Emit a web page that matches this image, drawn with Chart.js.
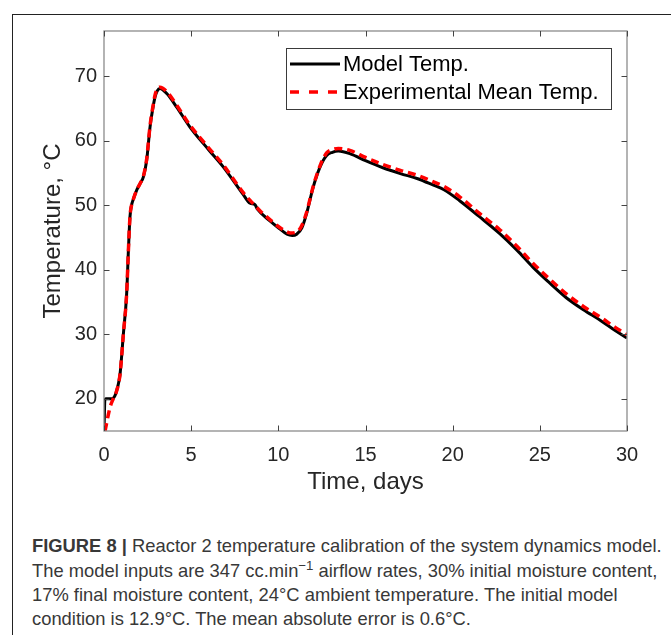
<!DOCTYPE html>
<html><head><meta charset="utf-8">
<script src="https://cdn.jsdelivr.net/npm/chart.js@4.4.1/dist/chart.umd.min.js"></script>
<style>
html,body{margin:0;padding:0;background:#fff;width:671px;height:635px;overflow:hidden;}
#frame{position:absolute;left:12px;top:14px;width:700px;height:700px;border-left:1.5px solid #222;border-top:1.5px solid #222;}
#wrap{position:absolute;left:0;top:0;width:671px;height:500px;}
.cap{position:absolute;left:32px;white-space:nowrap;font-family:"Liberation Sans",Arial,sans-serif;color:#383838;line-height:1;}
.cap sup{font-size:0.72em;vertical-align:0.5em;line-height:0;}
</style></head><body>
<div id="frame"></div>
<div id="wrap"><canvas id="c" width="671" height="500"></canvas></div>
<div class="cap" id="l1"><b>FIGURE 8 |</b> Reactor 2 temperature calibration of the system dynamics model.</div>
<div class="cap" id="l2">The model inputs are 347 cc.min<sup>−1</sup> airflow rates, 30% initial moisture content,</div>
<div class="cap" id="l3">17% final moisture content, 24°C ambient temperature. The initial model</div>
<div class="cap" id="l4">condition is 12.9°C. The mean absolute error is 0.6°C.</div>
<script>
const seriesNames = ['Model Temp.', 'Experimental Mean Temp.'];
const modelX = [0,0.05,0.12,0.45,0.63,0.78,0.92,1.11,1.3,1.4,1.49,1.58,1.68,1.87,2.1,2.26,2.45,2.64,2.8,2.93,3.05,3.21,3.6,4.17,4.93,6,6.85,8,8.38,8.65,8.8,9.5,10,10.5,10.8,11.05,11.35,11.62,12,12.39,12.77,13.1,13.44,14.1,15,16,17,18,18.9,19.5,20.4,21.5,22.7,23.7,24.6,25.5,26.5,27.5,28.5,29.3,30];
const modelY = [15,19.8,20,20,20.5,21.8,23.8,30,36.3,43,48.2,50,50.9,52.3,53.5,54.4,57,62.1,65,66.8,67.7,68.1,67.3,65.2,62.1,58.6,55.9,51.6,50.3,50.1,49.4,47.6,46.5,45.5,45.3,45.5,46.5,48.7,52.8,55.9,57.7,58.2,58.4,58.0,56.9,55.8,54.9,54.1,53.1,52.4,50.7,48.3,45.6,43,40.4,38.1,35.7,33.8,32.1,30.6,29.4];
const expX = [0.06,0.34,0.53,0.7,0.92,1.11,1.3,1.4,1.49,1.58,1.68,1.87,2.1,2.26,2.45,2.64,2.8,2.93,3.05,3.21,3.6,4.17,4.93,6,6.85,8,8.5,9,9.5,10,10.4,10.7,11.0,11.3,11.6,12,12.39,12.77,13.1,13.44,14.1,15,16,17,18,18.9,19.5,20.4,21.5,22.7,23.7,24.6,25.5,26.5,27.5,28.5,29.3,30];
const expY = [15,18.6,20,21,23.8,30,36.3,43,48.2,50,50.9,52.3,53.5,54.5,57.2,62.3,65.2,67.1,68,68.3,67.6,65.5,62.4,58.9,56.2,51.9,50.4,49.0,47.8,46.7,46.0,45.7,45.8,46.6,48.7,52.9,56.1,58.1,58.6,58.8,58.5,57.4,56.3,55.4,54.6,53.6,52.9,51.3,48.8,46.2,43.6,41.0,38.7,36.3,34.3,32.6,31.1,29.9];
const xTicks = [0,5,10,15,20,25,30];
const yTicks = [20,30,40,50,60,70];

const FONT = '"Liberation Sans", Arial, sans-serif';
const toPts = (xs, ys) => xs.map((x, i) => ({x: x, y: ys[i]}));

const frameBox = {
  id: 'frameBox',
  afterDatasetsDraw(chart) {
    const ctx = chart.ctx, a = chart.chartArea;
    const xs = chart.scales.x, ys = chart.scales.y;
    ctx.save();
    ctx.strokeStyle = '#8c8c8c';
    ctx.lineWidth = 1.3;
    ctx.strokeRect(a.left, a.top, a.right - a.left, a.bottom - a.top);
    ctx.strokeStyle = '#444';
    ctx.lineWidth = 1;
    const L = 5.5;
    ctx.beginPath();
    xTicks.forEach(v => {
      const px = Math.round(xs.getPixelForValue(v)) + 0.5;
      ctx.moveTo(px, a.bottom); ctx.lineTo(px, a.bottom - L);
      ctx.moveTo(px, a.top); ctx.lineTo(px, a.top + L);
    });
    yTicks.forEach(v => {
      const py = Math.round(ys.getPixelForValue(v)) + 0.5;
      ctx.moveTo(a.left, py); ctx.lineTo(a.left + L, py);
      ctx.moveTo(a.right, py); ctx.lineTo(a.right - L, py);
    });
    ctx.stroke();
    ctx.restore();
  },
  afterDraw(chart) {
    const ctx = chart.ctx;
    const bx = 286, by = 48, bw = 325, bh = 61;
    ctx.save();
    ctx.fillStyle = '#fff';
    ctx.fillRect(bx, by, bw, bh);
    ctx.strokeStyle = '#3a3a3a';
    ctx.lineWidth = 1;
    ctx.strokeRect(bx + 0.5, by + 0.5, bw, bh);
    const ds = chart.data.datasets;
    const rows = [64, 92];
    ds.forEach((d, i) => {
      const y = rows[i];
      ctx.beginPath();
      ctx.strokeStyle = d.borderColor;
      ctx.lineWidth = d.borderWidth;
      ctx.setLineDash(i === 1 ? [9, 10] : []);
      ctx.moveTo(290, y); ctx.lineTo(340, y);
      ctx.stroke();
      ctx.setLineDash([]);
      ctx.fillStyle = '#000';
      ctx.font = '22px ' + FONT;
      ctx.textBaseline = 'middle';
      ctx.textAlign = 'left';
      ctx.fillText(d.label, 343, y + 1);
    });
    ctx.restore();
  }
};

new Chart(document.getElementById('c'), {
  type: 'line',
  data: {
    datasets: [
      {label: seriesNames[0], data: toPts(modelX, modelY), borderColor: '#000000', borderWidth: 3, pointRadius: 0, cubicInterpolationMode: 'monotone', order: 2, fill: false},
      {label: seriesNames[1], data: toPts(expX, expY), borderColor: '#ff0000', borderWidth: 3.5, borderDash: [8, 5], pointRadius: 0, cubicInterpolationMode: 'monotone', order: 1, fill: false}
    ]
  },
  options: {
    responsive: false,
    animation: false,
    devicePixelRatio: 1,
    layout: {padding: {left: 14, right: 44, top: 31, bottom: 0}},
    plugins: {legend: {display: false}, tooltip: {enabled: false}},
    scales: {
      x: {
        type: 'linear', min: 0, max: 30,
        afterBuildTicks: s => { s.ticks = xTicks.map(v => ({value: v})); },
        afterFit: s => { s.height = 69; },
        grid: {display: false, drawTicks: false},
        border: {display: false},
        ticks: {padding: 12, color: '#262626', font: {family: FONT, size: 20}, maxRotation: 0},
        title: {display: true, text: 'Time, days', color: '#262626', font: {family: FONT, size: 24}, padding: {top: 0, bottom: 3}}
      },
      y: {
        type: 'linear', min: 15, max: 77,
        afterBuildTicks: s => { s.ticks = yTicks.map(v => ({value: v})); },
        afterFit: s => { s.width = 90; },
        grid: {display: false, drawTicks: false},
        border: {display: false},
        ticks: {padding: 7, color: '#262626', font: {family: FONT, size: 20}},
        title: {display: true, text: 'Temperature, °C', color: '#262626', font: {family: FONT, size: 24}, padding: {top: 25, bottom: 0}}
      }
    }
  },
  plugins: [frameBox]
});

// caption layout
(function () {
  const l1 = document.getElementById('l1');
  const base = 17;
  document.querySelectorAll('.cap').forEach(e => e.style.fontSize = base + 'px');
  const w = l1.getBoundingClientRect().width;
  const fs = base * 630 / w;
  const centers = [546, 571, 595, 619];
  ['l1', 'l2', 'l3', 'l4'].forEach((id, i) => {
    const e = document.getElementById(id);
    e.style.fontSize = fs + 'px';
    e.style.top = (centers[i] - fs / 2) + 'px';
  });
})();
</script>
</body></html>
